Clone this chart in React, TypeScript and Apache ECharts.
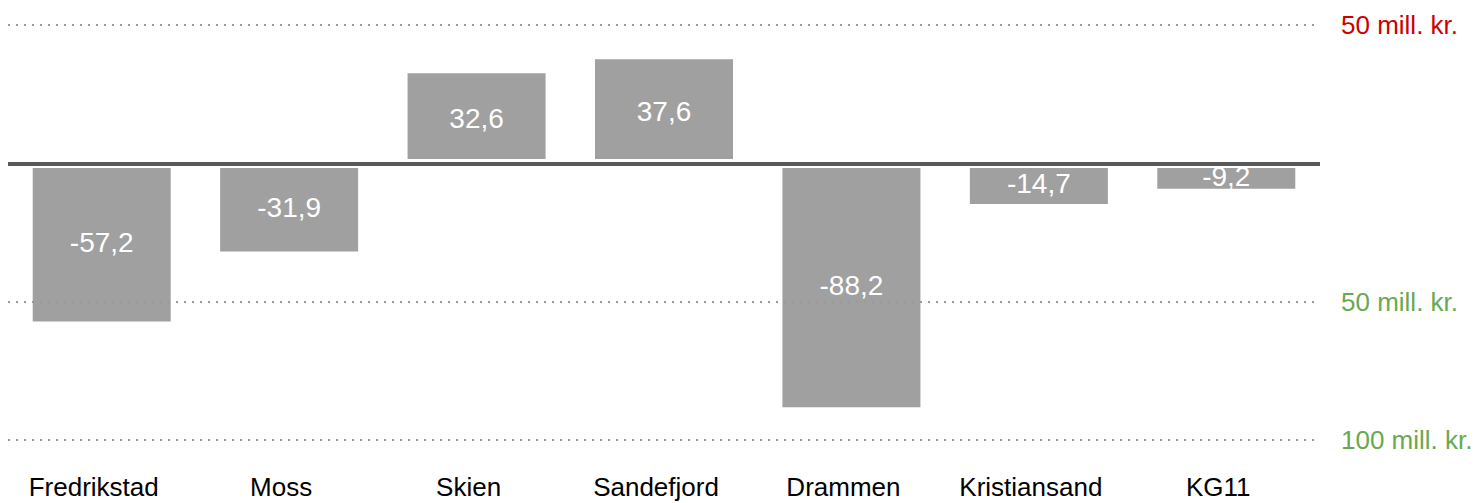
import React, { useEffect, useRef } from "react";
import * as echarts from "echarts";

const categories = ["Fredrikstad", "Moss", "Skien", "Sandefjord", "Drammen", "Kristiansand", "KG11"];
const values = [-57.2, -31.9, 32.6, 37.6, -88.2, -14.7, -9.2];
const refValues = [50, -50, -100];
const refLabels = ["50 mill. kr.", "50 mill. kr.", "100 mill. kr."];
const refColors = ["#cc0000", "#6aa84f", "#6aa84f"];

const FONT = 'Arial, "Liberation Sans", sans-serif';

export default function App() {
  const ref = useRef<HTMLDivElement>(null);
  useEffect(() => {
    if (!ref.current) return;
    const chart = echarts.init(ref.current, undefined, { renderer: "svg" });
    const fmt = (v: number) => v.toFixed(1).replace(".", ",");
    chart.setOption({
      animation: false,
      grid: { left: 8, right: 156, top: 25, bottom: 63, containLabel: false },
      xAxis: {
        type: "category",
        data: categories,
        position: "bottom",
        axisLine: { show: false, onZero: false },
        axisTick: { show: false },
        splitLine: { show: false },
        axisLabel: {
          margin: 34,
          fontSize: 26,
          color: "#000",
          fontFamily: FONT,
          interval: 0,
          padding: [0, 16, 0, 0],
        },
      },
      yAxis: {
        type: "value",
        min: -100,
        max: 50,
        show: false,
        splitLine: { show: false },
      },
      series: [
        {
          type: "line",
          data: categories.map(() => null),
          showSymbol: false,
          silent: true,
          z: 1,
          markLine: {
            silent: true,
            symbol: "none",
            data: refValues.map((v, i) => ({
              yAxis: v,
              lineStyle: { color: "#999", width: 2, type: [2, 6] },
              label: {
                show: true,
                position: "end",
                distance: 21,
                formatter: refLabels[i],
                color: refColors[i],
                fontSize: 26,
                fontFamily: FONT,
              },
            })),
          },
        },
        {
          type: "bar",
          data: values,
          barWidth: 138,
          z: 2,
          itemStyle: { color: "#a0a0a0" },
          label: {
            show: true,
            position: "inside",
            color: "#fff",
            fontSize: 28,
            fontFamily: FONT,
            formatter: (p: any) => fmt(p.value),
          },
          silent: true,
        },
        {
          type: "line",
          data: categories.map(() => null),
          showSymbol: false,
          silent: true,
          z: 10,
          markLine: {
            silent: true,
            symbol: "none",
            label: { show: false },
            data: [{ yAxis: 0, lineStyle: { color: "#fff", width: 9, type: "solid" } }],
          },
        },
        {
          type: "line",
          data: categories.map(() => null),
          showSymbol: false,
          silent: true,
          z: 11,
          markLine: {
            silent: true,
            symbol: "none",
            label: { show: false },
            data: [{ yAxis: 0, lineStyle: { color: "#595959", width: 4, type: "solid" } }],
          },
        },
      ],
    });
    return () => chart.dispose();
  }, []);
  return (
    <div
      ref={ref}
      style={{ position: "absolute", left: 0, top: 0, width: 1476, height: 503 }}
    />
  );
}
